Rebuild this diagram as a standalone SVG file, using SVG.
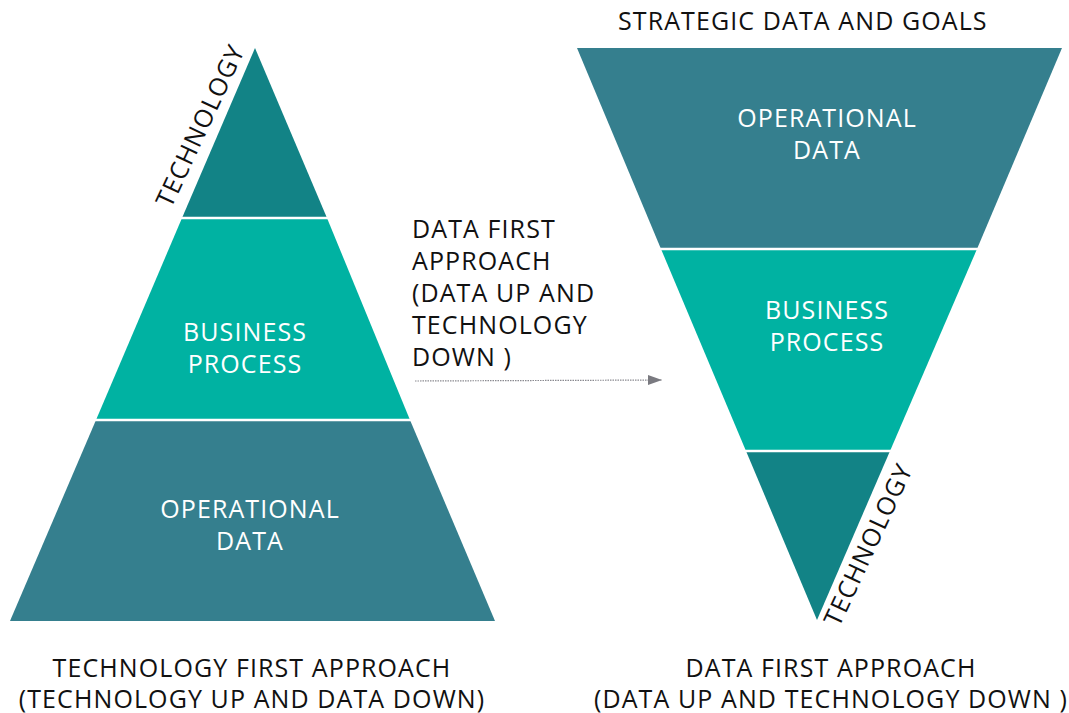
<svg xmlns="http://www.w3.org/2000/svg" width="1069" height="713" viewBox="0 0 1069 713">
<defs>
<style>
text{font-family:"Open Sans","Noto Sans","DejaVu Sans",sans-serif;font-size:25px;letter-spacing:1.1px;fill:#111;}
.w{fill:#fff;text-anchor:middle;}
.c{text-anchor:middle;}
.sep{stroke:#fff;stroke-width:2.5;}
</style>
<marker id="ah" markerWidth="15" markerHeight="12" refX="14" refY="6" orient="auto" markerUnits="userSpaceOnUse">
<path d="M0,1 L14,6 L0,11 Z" fill="#7a7a80"/>
</marker>
</defs>
<rect width="1069" height="713" fill="#fff"/>
<g id="left-pyramid">
<g id="left-top"><polygon points="255,48 182,218 327,218" fill="#128386"/></g>
<g id="left-mid"><polygon points="182,218 327,218 410,420 96,420" fill="#00b2a2"/>
<text class="w" x="245" y="341">BUSINESS</text><text class="w" x="245" y="373">PROCESS</text></g>
<g id="left-bot"><polygon points="96,420 410,420 495,621 10,621" fill="#357f8e"/>
<text class="w" x="250" y="518">OPERATIONAL</text><text class="w" x="250" y="550">DATA</text></g>
<line class="sep" x1="170" y1="218" x2="340" y2="218"/>
<line class="sep" x1="85" y1="420" x2="420" y2="420"/>
<text id="left-tech" transform="translate(201,126) rotate(-65)" class="c" y="8">TECHNOLOGY</text>
</g>
<g id="right-pyramid">
<g id="right-top"><polygon points="577,48 1062,48 977,249 661,249" fill="#357f8e"/>
<text class="w" x="827" y="127">OPERATIONAL</text><text class="w" x="827" y="159">DATA</text></g>
<g id="right-mid"><polygon points="661,249 977,249 890,451 746,451" fill="#00b2a2"/>
<text class="w" x="827" y="319">BUSINESS</text><text class="w" x="827" y="351">PROCESS</text></g>
<g id="right-bot"><polygon points="746,451 890,451 817,620" fill="#128386"/></g>
<line class="sep" x1="650" y1="249" x2="990" y2="249"/>
<line class="sep" x1="735" y1="451" x2="900" y2="451"/>
<text id="right-tech" transform="translate(869,545) rotate(-65)" class="c" y="8">TECHNOLOGY</text>
</g>
<g id="connectors">
<line x1="415" y1="381" x2="662" y2="380" stroke="#8a8a90" stroke-width="1.2" stroke-dasharray="1.5,1" marker-end="url(#ah)"/>
</g>
<g id="labels">
<text x="618" y="30">STRATEGIC DATA AND GOALS</text>
<text x="412" y="238">DATA FIRST</text>
<text x="412" y="270">APPROACH</text>
<text x="412" y="302">(DATA UP AND</text>
<text x="412" y="334">TECHNOLOGY</text>
<text x="412" y="366">DOWN )</text>
<text class="c" x="252" y="677">TECHNOLOGY FIRST APPROACH</text>
<text class="c" x="252" y="708">(TECHNOLOGY UP AND DATA DOWN)</text>
<text class="c" x="831" y="677">DATA FIRST APPROACH</text>
<text class="c" x="831" y="708">(DATA UP AND TECHNOLOGY DOWN )</text>
</g>
</svg>
